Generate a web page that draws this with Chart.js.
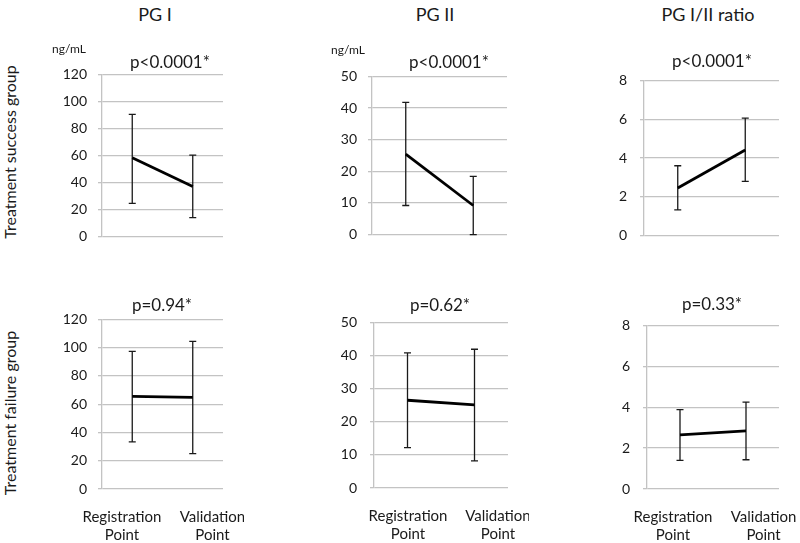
<!DOCTYPE html>
<html><head><meta charset="utf-8">
<script src="https://cdn.jsdelivr.net/npm/chart.js@4/dist/chart.umd.min.js"></script>
<style>
html,body{margin:0;padding:0;background:#fff;width:800px;height:543px;overflow:hidden;position:relative;font-family:Lato,"Open Sans",sans-serif;color:#1a1a1a}
canvas{position:absolute}
.lbl{position:absolute;white-space:nowrap;line-height:1;transform:translate(-50%,-50%)}
.rot{position:absolute;white-space:nowrap;line-height:1;transform:translate(-50%,-50%) rotate(-90deg)}
</style></head><body>
<script>
// ---------- data ----------
const categories = ['Registration Point', 'Validation Point'];
const xTickLabels = [['Registration', 'Point'], ['Validation', 'Point']];
const columnTitles = ['PG I', 'PG II', 'PG I/II ratio'];
const rowTitles = ['Treatment  success group', 'Treatment failure group'];
const unitLabel = 'ng/mL';
const pValues = ['p<0.0001*', 'p<0.0001*', 'p<0.0001*', 'p=0.94*', 'p=0.62*', 'p=0.33*'];

const successPG1Mean = [58.3, 37.1];
const successPG1Low  = [24.6, 14.0];
const successPG1High = [90.4, 60.3];

const successPG2Mean = [25.4, 9.2];
const successPG2Low  = [9.2, 0.0];
const successPG2High = [41.8, 18.4];

const successRatioMean = [2.45, 4.41];
const successRatioLow  = [1.33, 2.80];
const successRatioHigh = [3.60, 6.06];

const failurePG1Mean = [65.5, 64.8];
const failurePG1Low  = [33.3, 25.0];
const failurePG1High = [97.4, 104.4];

const failurePG2Mean = [26.5, 25.1];
const failurePG2Low  = [12.2, 8.2];
const failurePG2High = [40.8, 41.9];

const failureRatioMean = [2.65, 2.84];
const failureRatioLow  = [1.40, 1.43];
const failureRatioHigh = [3.88, 4.25];

const pg1Ticks = [0, 120, 20];
const pg2Ticks = [0, 50, 10];
const ratioTicks = [0, 8, 2];

// ---------- layout (positions only) ----------
const panels = [
  {mean: successPG1Mean, low: successPG1Low, high: successPG1High, ticks: pg1Ticks, l:102, r:223, t:67, b:244, gap:15, bottom:false},
  {mean: successPG2Mean, low: successPG2Low, high: successPG2High, ticks: pg2Ticks, l:372, r:507, t:69, b:242, gap:15, bottom:false},
  {mean: successRatioMean, low: successRatioLow, high: successRatioHigh, ticks: ratioTicks, l:644, r:779, t:71, b:245, gap:17, bottom:false},
  {mean: failurePG1Mean, low: failurePG1Low, high: failurePG1High, ticks: pg1Ticks, l:102, r:223, t:312, b:489, gap:15, bottom:true, lab:[0.165, 0.913]},
  {mean: failurePG2Mean, low: failurePG2Low, high: failurePG2High, ticks: pg2Ticks, l:374, r:508, t:313, b:488, gap:17, bottom:true, lab:[0.254, 0.925]},
  {mean: failureRatioMean, low: failureRatioLow, high: failureRatioHigh, ticks: ratioTicks, l:647, r:779, t:316, b:489, gap:17, bottom:true, lab:[0.197, 0.883]}
];
const pPos = [[170,61],[449,61],[712,60],[162,304],[440,304],[712,303]];
const titlePos = [[155,14],[435,14],[708,14]];
const unitPos = [[69,49],[348,50]];
const rowPos = [[10,152],[10,413]];

function addText(txt, x, y, size, cls) {
  const d = document.createElement('div');
  d.className = cls || 'lbl';
  d.style.left = x + 'px'; d.style.top = y + 'px';
  d.style.fontSize = size + 'px';
  d.textContent = txt;
  document.body.appendChild(d);
}

const errorBars = {
  id: 'errorBars',
  beforeDatasetsDraw(chart) {
    const ctx = chart.ctx, y = chart.scales.y;
    const ds = chart.data.datasets[0];
    const meta = chart.getDatasetMeta(0);
    ctx.save();
    ctx.strokeStyle = '#1a1a1a';
    ctx.lineWidth = 1.3;
    meta.data.forEach((pt, i) => {
      const yl = y.getPixelForValue(ds.errLow[i]);
      const yh = y.getPixelForValue(ds.errHigh[i]);
      ctx.beginPath();
      ctx.moveTo(pt.x, yl); ctx.lineTo(pt.x, yh);
      ctx.moveTo(pt.x - 3.5, yl); ctx.lineTo(pt.x + 3.5, yl);
      ctx.moveTo(pt.x - 3.5, yh); ctx.lineTo(pt.x + 3.5, yh);
      ctx.stroke();
    });
    ctx.restore();
  }
};

const YW = 50, PL = 4, PT = 12, PR = 21;
panels.forEach((g) => {
  const XH = g.bottom ? 52 : 0;
  const PB = g.bottom ? 2 : 12;
  const L = g.l - YW - PL;
  const T = g.t - PT;
  const W = g.r - L + PR;
  const H = g.b - T + XH + PB;
  const cv = document.createElement('canvas');
  cv.width = W; cv.height = H;
  cv.style.left = L + 'px'; cv.style.top = T + 'px';
  cv.style.width = W + 'px'; cv.style.height = H + 'px';
  document.body.appendChild(cv);

  const scales = {
    x: { type: 'category', labels: categories, offset: true, display: false },
    y: {
      min: g.ticks[0], max: g.ticks[1],
      ticks: { stepSize: g.ticks[2], padding: g.gap - 4, color: '#1a1a1a', font: { family: 'Lato', size: 14 } },
      grid: { color: '#c3c3c3', lineWidth: 1.3, tickLength: 4, drawTicks: true, tickColor: '#c3c3c3' },
      border: { display: true, color: '#c3c3c3', width: 1.3 },
      afterFit(s) { s.width = YW; }
    }
  };
  if (g.bottom) {
    scales.xl = {
      type: 'linear', position: 'bottom', min: 0, max: 1,
      grid: { display: false, drawTicks: false },
      border: { display: false },
      ticks: {
        autoSkip: false, maxRotation: 0, minRotation: 0, padding: 20,
        color: '#1a1a1a', font: { family: 'Lato', size: 15, lineHeight: 1.15 },
        callback: (v, i) => xTickLabels[i]
      },
      afterBuildTicks(s) { s.ticks = g.lab.map(v => ({ value: v })); },
      afterFit(s) { s.height = XH; s.paddingLeft = 0; s.paddingRight = 0; }
    };
  }
  new Chart(cv, {
    type: 'line',
    data: {
      labels: categories,
      datasets: [{
        data: g.mean, errLow: g.low, errHigh: g.high,
        borderColor: '#000', borderWidth: 2.8, pointRadius: 0, tension: 0, fill: false
      }]
    },
    options: {
      responsive: false, animation: false, devicePixelRatio: 1,
      layout: { padding: { left: PL, right: PR, top: PT, bottom: PB } },
      plugins: { legend: { display: false }, tooltip: { enabled: false }, title: { display: false } },
      scales
    },
    plugins: [errorBars]
  });
});

columnTitles.forEach((t, i) => addText(t, titlePos[i][0], titlePos[i][1], 18));
unitPos.forEach(p => addText(unitLabel, p[0], p[1], 12));
pValues.forEach((t, i) => addText(t, pPos[i][0], pPos[i][1], 17));
rowTitles.forEach((t, i) => addText(t, rowPos[i][0], rowPos[i][1], 16, 'rot'));
</script>
</body></html>
